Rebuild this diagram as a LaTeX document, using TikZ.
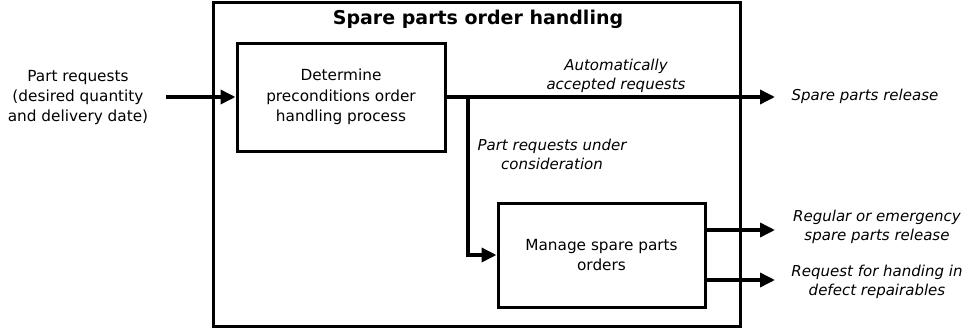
\documentclass[tikz,border=0pt]{standalone}
\usepackage{fontspec}
\setmainfont{DejaVu Sans}
\usetikzlibrary{positioning,arrows.meta}

\begin{document}
\begin{tikzpicture}[x=1pt,y=-1pt,
		procbox/.style={draw,line width=3pt,align=center,inner sep=0pt,font=\fontsize{15.3}{20.5}\selectfont},
		flow/.style={line width=3.5pt,-{Triangle[length=15pt,width=14pt]}},
		lbl/.style={align=center,font=\fontsize{15}{19}\selectfont\itshape}]
	
	\useasboundingbox (0,0) rectangle (969,332);
	
	% outer frame and title
	\node[draw,line width=3pt,minimum width=527pt,minimum height=324pt] (frame) at (476.5,164) {};
	\node[font=\fontsize{19}{22}\selectfont\bfseries] (title) at (478,19) {Spare parts order handling};
	
	% the two processes
	\node[procbox,minimum width=208pt,minimum height=108pt] (determine) at (341,97) {Determine\\preconditions order\\handling process};
	\node[procbox,minimum width=207pt,minimum height=104pt] (manage) at (601.5,255) {Manage spare parts\\orders};
	
	% input
	\node[align=center,font=\fontsize{15.3}{20}\selectfont] (request) at (78,98) {Part requests\\(desired quantity\\and delivery date)};
	\coordinate (in) at (166,97);
	\draw[flow] (in) -- (determine.west);
	
	% outputs
	\coordinate (out0) at (775,97);
	\coordinate (split) at (468,97);
	\coordinate (out1) at (775,230);
	\coordinate (out2) at (775,280);
	
	\draw[flow] (determine.east) -- (out0);
	\draw[flow] (split) |- (manage.west);
	\draw[flow] (manage.east |- out1) -- (out1);
	\draw[flow] (manage.east |- out2) -- (out2);
	
	% labels
	\node[lbl] (auto) at (616,76) {Automatically\\accepted requests};
	\node[lbl] (consider) at (552,154) {Part requests under\\consideration};
	\node[lbl,anchor=west] (release) at (788,96) {Spare parts release};
	\node[lbl] (regular) at (877,227) {Regular or emergency\\spare parts release};
	\node[lbl] (handin) at (877,282) {Request for handing in\\defect repairables};
	
\end{tikzpicture}
\end{document}
